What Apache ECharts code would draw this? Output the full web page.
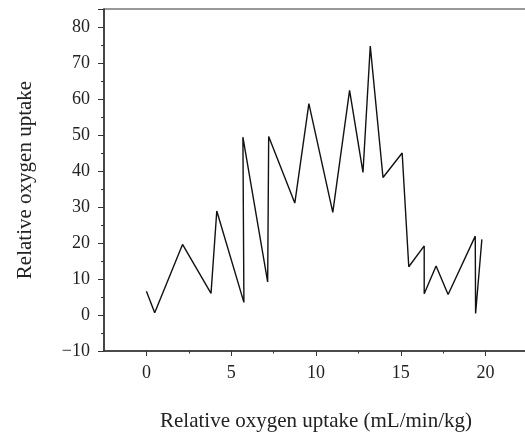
<!DOCTYPE html>
<html>
<head>
<meta charset="utf-8">
<script src="https://cdn.jsdelivr.net/npm/echarts@6/dist/echarts.min.js"></script>
<style>
  html, body { margin: 0; padding: 0; background: #fff; }
  #main { width: 525px; height: 432px; }
</style>
</head>
<body>
<div id="main"></div>
<script>
// data
const uptakeX = [0, 0.49, 2.13, 3.81, 4.15, 5.75, 5.69, 7.15, 7.21, 8.75, 9.58, 10.99, 11.98,
                 12.77, 13.2, 13.95, 15.08, 15.47, 16.38, 16.38, 17.08, 17.79, 19.39, 19.41, 19.78];
const uptakeY = [6.6, 0.6, 19.6, 6.0, 28.9, 3.5, 49.4, 9.2, 49.6, 31.1, 58.7, 28.5, 62.4,
                 39.6, 74.7, 38.2, 45.0, 13.4, 19.2, 5.9, 13.6, 5.7, 21.9, 0.4, 21.0];
const xMajorTicks = [0, 5, 10, 15, 20];
const xMinorTicks = [2.5, 7.5, 12.5, 17.5];

const font = 'Liberation Serif';
const axisColor = '#333';

const chart = echarts.init(document.getElementById('main'));

function minusFmt(v) {
    return v < 0 ? '\u2212' + Math.abs(v) : String(v);
}

const option = {
    animation: false,
    grid: {
        left: 104,
        top: 9,
        right: -3,
        bottom: 81,
        outerBoundsMode: 'none',
        show: true,
        borderColor: axisColor,
        borderWidth: 1.2
    },
    xAxis: [
        {
            type: 'value',
            min: -2.5,
            max: 22.5,
            interval: 2.5,
            name: 'Relative oxygen uptake (mL/min/kg)',
            nameLocation: 'middle',
            nameGap: 60,
            nameTextStyle: { fontFamily: font, fontSize: 21, color: '#222' },
            splitLine: { show: false },
            axisLine: { onZero: false, lineStyle: { color: axisColor, width: 1.5 } },
            axisTick: { customValues: xMajorTicks, length: 5, lineStyle: { color: axisColor } },
            axisLabel: {
                customValues: xMajorTicks,
                margin: 13,
                fontFamily: font,
                fontSize: 18,
                color: '#222',
                formatter: minusFmt
            }
        },
        {
            type: 'value',
            min: -2.5,
            max: 22.5,
            position: 'bottom',
            splitLine: { show: false },
            axisLine: { show: false, onZero: false },
            axisTick: { customValues: xMinorTicks, length: 2.5, lineStyle: { color: axisColor } },
            axisLabel: { show: false }
        }
    ],
    yAxis: {
        type: 'value',
        min: -10,
        max: 85,
        interval: 10,
        name: 'Relative oxygen uptake',
        nameLocation: 'middle',
        nameGap: 68,
        nameTextStyle: { fontFamily: font, fontSize: 21, color: '#222' },
        splitLine: { show: false },
        axisLine: { show: true, onZero: false, lineStyle: { color: axisColor, width: 1.5 } },
        axisTick: { show: true, length: 6, lineStyle: { color: axisColor } },
        minorTick: { show: true, splitNumber: 2, length: 3, lineStyle: { color: axisColor } },
        axisLabel: {
            margin: 14,
            showMaxLabel: false,
            fontFamily: font,
            fontSize: 18,
            color: '#222',
            formatter: minusFmt
        }
    },
    series: [
        {
            type: 'line',
            xAxisIndex: 0,
            showSymbol: false,
            lineStyle: { color: '#111', width: 1.4 },
            data: uptakeX.map((x, i) => [x, uptakeY[i]])
        }
    ]
};

chart.setOption(option);
</script>
</body>
</html>
